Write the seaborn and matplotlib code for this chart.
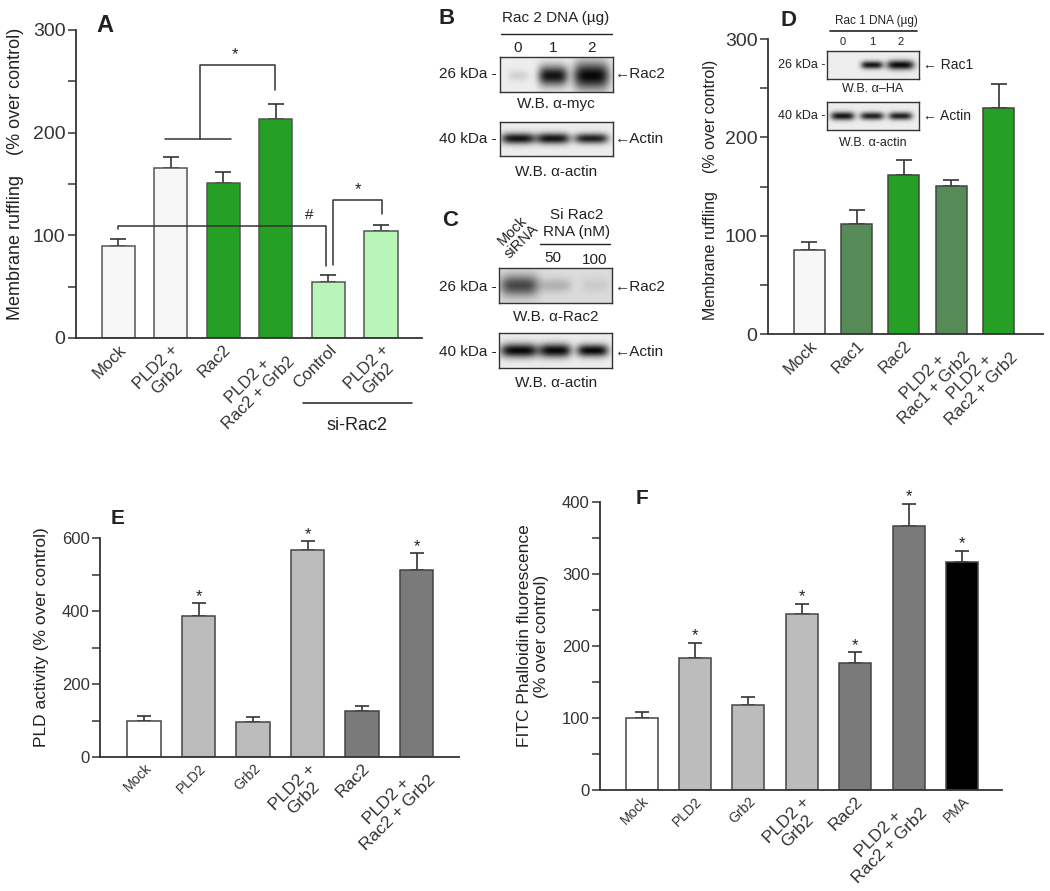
import numpy as np
import pandas as pd
import matplotlib
matplotlib.use("Agg")
import matplotlib.pyplot as plt
import seaborn as sns

sns.set_theme(style="ticks")
plt.rcParams['font.family'] = ['Liberation Sans', 'DejaVu Sans']
plt.rcParams['text.color'] = '#222222'
plt.rcParams['axes.labelcolor'] = '#222222'
plt.rcParams['xtick.color'] = '#333333'
plt.rcParams['ytick.color'] = '#333333'

# ---------------- data ----------------
a_labels = ["Mock", "PLD2 +\nGrb2", "Rac2", "PLD2 +\nRac2 + Grb2", "Control", "PLD2 +\nGrb2"]
a_values = [90, 166, 151, 213, 55, 104]
a_errors = [6, 10, 11, 15, 6, 6]
a_colors = ["#f7f7f7", "#f7f7f7", "#25a025", "#25a025", "#b8f5b8", "#b8f5b8"]

d_labels = ["Mock", "Rac1", "Rac2", "PLD2 +\nRac1 + Grb2", "PLD2 +\nRac2 + Grb2"]
d_values = [85, 112, 162, 151, 230]
d_errors = [9, 14, 15, 6, 24]
d_colors = ["#f7f7f7", "#568a56", "#25a025", "#568a56", "#25a025"]

e_labels = ["Mock", "PLD2", "Grb2", "PLD2 +\nGrb2", "Rac2", "PLD2 +\nRac2 + Grb2"]
e_values = [100, 385, 95, 567, 125, 513]
e_errors = [12, 37, 14, 25, 15, 46]
e_colors = ["#ffffff", "#bcbcbc", "#bcbcbc", "#bcbcbc", "#7a7a7a", "#7a7a7a"]
e_signif = [False, True, False, True, False, True]

f_labels = ["Mock", "PLD2", "Grb2", "PLD2 +\nGrb2", "Rac2", "PLD2 +\nRac2 + Grb2", "PMA"]
f_values = [100, 183, 118, 244, 176, 367, 316]
f_errors = [9, 21, 11, 15, 15, 30, 16]
f_colors = ["#ffffff", "#bcbcbc", "#bcbcbc", "#bcbcbc", "#7a7a7a", "#7a7a7a", "#000000"]
f_signif = [False, True, False, True, True, True, True]

# western blot band intensities (0 = none, 1 = saturated)
b_rac2_int = [0.12, 0.95, 1.0]
b_actin_int = [0.95, 0.95, 0.9]
c_rac2_int = [0.7, 0.2, 0.08]
c_actin_int = [1.0, 1.0, 1.0]
d_rac1_int = [0.0, 0.95, 1.0]
d_actin_int = [0.95, 0.9, 0.9]

W, H = 1050, 891
fig = plt.figure(figsize=(W / 100, H / 100), dpi=100)
fig.patch.set_facecolor("white")


def px_axes(x0, y0, x1, y1, **kw):
    return fig.add_axes([x0 / W, 1 - y1 / H, (x1 - x0) / W, (y1 - y0) / H], **kw)


def bar_panel(ax, labels, values, errors, colors, ymax, step_major, step_minor,
              xlim, width, edge, tick_fs, lab_fs, cap, small_labels=(), small_fs=10):
    keys = [f"k{i}" for i in range(len(labels))]
    df = pd.DataFrame({"key": keys, "val": values})
    sns.barplot(data=df, x="key", y="val", hue="key", palette=dict(zip(keys, colors)),
                saturation=1, legend=False, width=width, edgecolor=edge,
                linewidth=1.1, ax=ax, zorder=2)
    ax.errorbar(range(len(values)), values, yerr=[[0] * len(values), errors],
                fmt="none", ecolor="#333333", elinewidth=1.2, capsize=cap,
                capthick=1.2, zorder=1)
    ax.set_xlim(*xlim)
    ax.set_ylim(0, ymax)
    ticks = np.arange(0, ymax + 1, step_minor)
    ax.set_yticks(ticks)
    ax.set_yticklabels([str(int(t)) if t % step_major == 0 else "" for t in ticks],
                       fontsize=tick_fs)
    ax.set_xticks(range(len(labels)))
    ax.set_xticklabels(labels, rotation=45, ha="right", va="top",
                       rotation_mode="anchor", fontsize=lab_fs, multialignment="center",
                       linespacing=1.1)
    for i, t in enumerate(ax.get_xticklabels()):
        if i in small_labels:
            t.set_fontsize(small_fs)
    ax.tick_params(axis="x", length=0, pad=3)
    ax.tick_params(axis="y", length=5.5, width=1.1, pad=2)
    ax.set_xlabel("")
    ax.set_ylabel("")
    sns.despine(ax=ax)
    for sp in ("left", "bottom"):
        ax.spines[sp].set_linewidth(1.3)
        ax.spines[sp].set_color("#333333")
    ax.patch.set_alpha(0)


# ---------------- Panel A ----------------
axA = px_axes(76, 30, 422, 338)
bar_panel(axA, a_labels, a_values, a_errors, a_colors, 300, 100, 50,
          (-0.8, 5.78), 0.63, "#555555", 14, 12, 5.5)
kw = dict(color="#333333", lw=1.1, clip_on=False, zorder=5)
axA.plot([0.89, 2.15], [193.5, 193.5], **kw)
axA.plot([1.56, 1.56, 2.98, 2.98], [193.5, 266, 266, 242], **kw)
axA.text(2.22, 269, "*", ha="center", va="bottom", fontsize=12)
axA.plot([0.0, 0.0, 3.95, 3.95], [106, 109, 109, 70], **kw)
axA.text(3.63, 113, "#", ha="center", va="bottom", fontsize=11)
axA.plot([4.09, 4.09, 5.02, 5.02], [71, 134, 134, 121], **kw)
axA.text(4.56, 137, "*", ha="center", va="bottom", fontsize=12)
tr = axA.get_xaxis_transform()
axA.plot([3.52, 5.59], [-0.211, -0.211], transform=tr, color="#222222", lw=1.1, clip_on=False)
axA.text(4.54, -0.255, "si-Rac2", transform=tr, ha="center", va="top", fontsize=13)

# ---------------- Panel D ----------------
axD = px_axes(768, 39, 1043, 334)
bar_panel(axD, d_labels, d_values, d_errors, d_colors, 300, 100, 50,
          (-0.87, 4.94), 0.66, "#444444", 14, 12, 5.5)

# ---------------- Panel E ----------------
axE = px_axes(100, 538, 459, 757)
bar_panel(axE, e_labels, e_values, e_errors, e_colors, 600, 200, 100,
          (-0.81, 5.78), 0.62, "#444444", 12, 12.5, 5, small_labels=(0, 1, 2))
for i, s in enumerate(e_signif):
    if s:
        axE.annotate("*", (i, e_values[i] + e_errors[i]), xytext=(0, 1),
                     textcoords="offset points", ha="center", va="baseline", fontsize=12)

# ---------------- Panel F ----------------
axF = px_axes(600, 502, 1002, 790)
bar_panel(axF, f_labels, f_values, f_errors, f_colors, 400, 100, 50,
          (-0.78, 6.75), 0.6, "#444444", 12, 12.5, 5, small_labels=(0, 1, 2, 6))
for i, s in enumerate(f_signif):
    if s:
        axF.annotate("*", (i, f_values[i] + f_errors[i]), xytext=(0, 2),
                     textcoords="offset points", ha="center", va="baseline", fontsize=12)


# ---------------- Western blots ----------------
def draw_blot(box, lanes, intens, bw, bh, bg=0.93, by=0.5):
    ax = px_axes(*box)
    h, w = 80, 240
    yy = np.linspace(0, 1, h)[:, None]
    xx = np.linspace(0, 1, w)[None, :]
    dark = np.zeros((h, w))
    for p, s, wx, hy in zip(lanes, intens, bw, bh):
        dark += s * np.exp(-((xx - p) / wx) ** 4) * np.exp(-((yy - by) / hy) ** 2)
    img = bg * (1 - np.clip(dark, 0, 1)) + 0.03 * np.clip(dark, 0, 1)
    ax.imshow(img, cmap="gray", vmin=0, vmax=1, aspect="auto",
              extent=(0, 1, 1, 0), interpolation="bilinear")
    ax.set_xticks([])
    ax.set_yticks([])
    for sp in ax.spines.values():
        sp.set_color("#333333")
        sp.set_linewidth(1.0)
    return ax


lanes3 = [0.16, 0.47, 0.81]
draw_blot((500, 57, 613, 92), lanes3, b_rac2_int, [0.09, 0.13, 0.16], [0.15, 0.28, 0.38], by=0.55)
draw_blot((500, 122, 613, 156), lanes3, b_actin_int, [0.15, 0.15, 0.15], [0.16, 0.16, 0.15])
draw_blot((499, 268, 612, 303), [0.18, 0.5, 0.85], c_rac2_int, [0.17, 0.14, 0.12],
          [0.3, 0.2, 0.2], bg=0.86)
draw_blot((499, 333, 612, 368), [0.18, 0.5, 0.83], c_actin_int, [0.17, 0.14, 0.14],
          [0.2, 0.2, 0.18])
draw_blot((827, 51, 919, 79), [0.17, 0.49, 0.8], d_rac1_int, [0.1, 0.12, 0.15],
          [0.14, 0.14, 0.17])
draw_blot((827, 102, 919, 130), [0.17, 0.49, 0.8], d_actin_int, [0.13, 0.13, 0.13],
          [0.15, 0.14, 0.14])

# ---------------- overlay text (pixel coordinates) ----------------
ov = fig.add_axes([0, 0, 1, 1])
ov.set_xlim(0, W)
ov.set_ylim(H, 0)
ov.axis("off")
ov.patch.set_alpha(0)

def t(x, y, s, fs=11, ha="center", va="center", **k):
    ov.text(x, y, s, fontsize=fs, ha=ha, va=va, **k)

def hline(x0, x1, y, lw=1.0):
    ov.plot([x0, x1], [y, y], color="#222222", lw=lw)

# panel letters
for (x, y, s, fs) in [(105, 25, "A", 17), (447, 18, "B", 16), (450, 221, "C", 16),
                      (788, 20, "D", 16), (118, 518, "E", 15), (642, 498, "F", 15)]:
    t(x, y, s, fs=fs, weight="bold", color="#222222")

# y labels
t(16, 174, "Membrane ruffling    (% over control)", fs=13, rotation=90)
t(710, 190, "Membrane ruffling    (% over control)", fs=11.5, rotation=90)
t(42, 637, "PLD activity (% over control)", fs=12.5, rotation=90)
t(533, 636, "FITC Phalloidin fluorescence\n(% over control)", fs=12.5, rotation=90,
  linespacing=1.1)

# B
t(556, 18, "Rac 2 DNA (µg)", fs=11)
hline(501, 612, 34)
for x, s in zip([518, 553, 592], ["0", "1", "2"]):
    t(x, 48, s, fs=11)
t(497, 74, "26 kDa -", fs=11, ha="right")
t(615, 74, "←Rac2", fs=11, ha="left")
t(556, 104, "W.B. α-myc", fs=11)
t(497, 139, "40 kDa -", fs=11, ha="right")
t(615, 139, "←Actin", fs=11, ha="left")
t(556, 172, "W.B. α-actin", fs=11)

# C
t(517, 236, "Mock\nsiRNA", fs=10.5, rotation=45, linespacing=1.0)
t(577, 215, "Si Rac2", fs=11)
t(577, 232, "RNA (nM)", fs=11)
hline(540, 610, 244)
t(553, 258, "50", fs=11)
t(595, 260, "100", fs=11)
t(497, 287, "26 kDa -", fs=11, ha="right")
t(615, 287, "←Rac2", fs=11, ha="left")
t(556, 317, "W.B. α-Rac2", fs=11)
t(497, 352, "40 kDa -", fs=11, ha="right")
t(615, 352, "←Actin", fs=11, ha="left")
t(556, 383, "W.B. α-actin", fs=11)

# D inset
t(876, 21, "Rac 1 DNA (µg)", fs=8.5)
hline(830, 917, 31, lw=1.2)
for x, s in zip([843, 872, 901], ["0", "1", "2"]):
    t(x, 42, s, fs=8)
t(825, 65, "26 kDa -", fs=9, ha="right")
t(923, 65, "← Rac1", fs=10, ha="left")
t(873, 89, "W.B. α–HA", fs=9)
t(825, 116, "40 kDa -", fs=9, ha="right")
t(923, 116, "← Actin", fs=10, ha="left")
t(873, 143, "W.B. α-actin", fs=9)

fig.savefig("out.png", dpi=100, facecolor="white")
